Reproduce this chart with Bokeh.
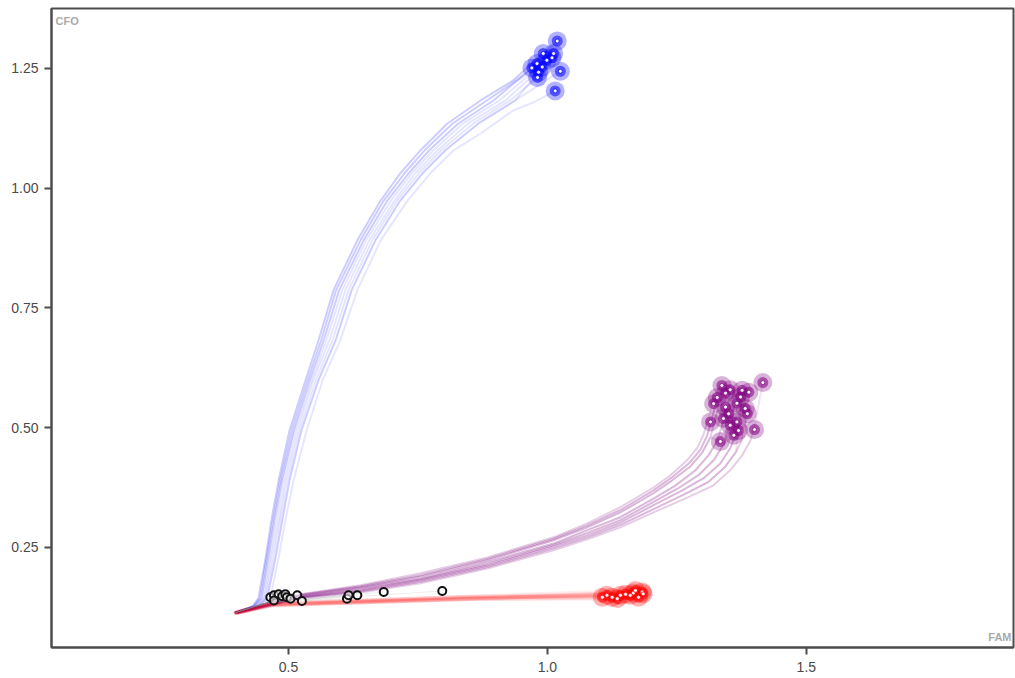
from bokeh.plotting import figure
from bokeh.models import Range1d, FixedTicker, NumeralTickFormatter, Label, ColumnDataSource
from bokeh.embed import file_html
from bokeh.resources import INLINE

# ---------------- data ----------------
start_x, start_y = 0.398, 0.114

# amplification paths of the blue cluster (read across the band)
blue_y_levels = [0.114, 0.127, 0.144, 0.223, 0.306, 0.390, 0.494, 0.599, 0.682,
                 0.787, 0.891, 0.974, 1.031, 1.079, 1.135, 1.183, 1.225]
blue_paths_x = [
    [0.398, 0.431, 0.442, 0.455, 0.467, 0.481, 0.502, 0.533, 0.558, 0.587, 0.633, 0.678, 0.716, 0.755, 0.807, 0.871, 0.934],
    [0.398, 0.434, 0.448, 0.460, 0.473, 0.487, 0.510, 0.541, 0.568, 0.598, 0.645, 0.691, 0.732, 0.772, 0.828, 0.896],
    [0.400, 0.438, 0.454, 0.466, 0.481, 0.494, 0.517, 0.548, 0.579, 0.610, 0.656, 0.705, 0.745, 0.788, 0.847, 0.919],
    [0.402, 0.442, 0.459, 0.474, 0.488, 0.502, 0.525, 0.558, 0.591, 0.622, 0.668, 0.716, 0.759, 0.803, 0.867, 0.938],
    [0.403, 0.446, 0.465, 0.480, 0.494, 0.510, 0.535, 0.566, 0.600, 0.633, 0.678, 0.730, 0.774, 0.819, 0.871, 0.934, 0.973],
    [0.398, 0.432, 0.445, 0.457, 0.470, 0.484, 0.506, 0.537, 0.563, 0.592, 0.639, 0.684, 0.724, 0.763, 0.817, 0.883],
    [0.399, 0.436, 0.451, 0.463, 0.477, 0.490, 0.513, 0.545, 0.573, 0.604, 0.650, 0.698, 0.738, 0.780, 0.837, 0.907],
    [0.401, 0.440, 0.456, 0.470, 0.484, 0.498, 0.521, 0.553, 0.585, 0.616, 0.662, 0.710, 0.752, 0.795, 0.857, 0.928],
]
blue_paths_y = [
    blue_y_levels,
    blue_y_levels[:16],
    blue_y_levels[:16],
    blue_y_levels[:16],
    [0.114, 0.127, 0.144, 0.223, 0.306, 0.390, 0.494, 0.599, 0.682,
     0.787, 0.891, 0.974, 1.031, 1.079, 1.114, 1.162, 1.179],
    blue_y_levels[:16],
    blue_y_levels[:16],
    blue_y_levels[:16],
]
blue_end_x = [1.019, 1.025, 1.015, 0.970, 0.981, 1.009, 0.992, 0.999, 0.980, 0.990, 0.983, 1.012]
blue_end_y = [1.307, 1.244, 1.203, 1.251, 1.231, 1.272, 1.281, 1.267, 1.260, 1.253, 1.242, 1.281]
blue_path = [0, 3, 4, 1, 7, 5, 0, 6, 1, 2, 3, 5]

# purple cluster
purple_paths_x = [
    [0.398, 0.461, 0.523, 0.639, 0.755, 0.884, 1.012, 1.077, 1.141, 1.205, 1.237, 1.270, 1.290, 1.301, 1.311, 1.320],
    [0.398, 0.465, 0.523, 0.639, 0.755, 0.884, 1.012, 1.077, 1.141, 1.205, 1.241, 1.276, 1.299, 1.315, 1.324, 1.334],
    [0.400, 0.467, 0.523, 0.639, 0.755, 0.884, 1.012, 1.077, 1.141, 1.205, 1.247, 1.286, 1.311, 1.328, 1.340, 1.349],
    [0.402, 0.469, 0.523, 0.639, 0.755, 0.884, 1.012, 1.077, 1.141, 1.205, 1.257, 1.301, 1.334, 1.353, 1.367, 1.376],
    [0.403, 0.471, 0.523, 0.639, 0.755, 0.884, 1.012, 1.077, 1.141, 1.205, 1.270, 1.320, 1.353, 1.376, 1.392, 1.402],
    [0.398, 0.463, 0.523, 0.639, 0.755, 0.884, 1.012, 1.077, 1.141, 1.205, 1.239, 1.273, 1.295, 1.308, 1.318, 1.327],
    [0.401, 0.468, 0.523, 0.639, 0.755, 0.884, 1.012, 1.077, 1.141, 1.205, 1.252, 1.293, 1.322, 1.340, 1.353, 1.362],
    [0.402, 0.470, 0.523, 0.639, 0.755, 0.884, 1.012, 1.077, 1.141, 1.205, 1.263, 1.310, 1.343, 1.364, 1.380, 1.389],
]
purple_paths_y = [
    [0.114, 0.133, 0.152, 0.171, 0.196, 0.229, 0.271, 0.300, 0.334, 0.375, 0.400, 0.432, 0.459, 0.484, 0.519, 0.557],
    [0.114, 0.133, 0.150, 0.167, 0.189, 0.223, 0.265, 0.292, 0.323, 0.363, 0.390, 0.419, 0.448, 0.480, 0.519, 0.557],
    [0.114, 0.131, 0.148, 0.165, 0.185, 0.219, 0.258, 0.286, 0.313, 0.352, 0.379, 0.411, 0.442, 0.473, 0.515, 0.557],
    [0.114, 0.131, 0.146, 0.160, 0.181, 0.212, 0.252, 0.275, 0.302, 0.338, 0.367, 0.394, 0.425, 0.457, 0.494, 0.536],
    [0.112, 0.129, 0.144, 0.156, 0.175, 0.206, 0.244, 0.267, 0.292, 0.323, 0.354, 0.379, 0.411, 0.442, 0.473, 0.515],
    [0.114, 0.133, 0.151, 0.169, 0.192, 0.226, 0.268, 0.296, 0.328, 0.369, 0.395, 0.425, 0.453, 0.482, 0.519, 0.557],
    [0.114, 0.131, 0.147, 0.162, 0.183, 0.215, 0.255, 0.280, 0.307, 0.345, 0.373, 0.402, 0.433, 0.465, 0.504, 0.546],
    [0.113, 0.130, 0.145, 0.158, 0.178, 0.209, 0.248, 0.271, 0.297, 0.330, 0.360, 0.386, 0.418, 0.449, 0.483, 0.525],
]
purple_end_x = [1.416, 1.315, 1.334, 1.400, 1.337, 1.353, 1.376, 1.389, 1.321, 1.328, 1.366,
                1.344, 1.382, 1.386, 1.350, 1.366, 1.353, 1.369, 1.360, 1.340, 1.373, 1.344]
purple_end_y = [0.594, 0.512, 0.471, 0.496, 0.588, 0.579, 0.578, 0.574, 0.550, 0.563, 0.551,
                0.543, 0.540, 0.529, 0.529, 0.512, 0.505, 0.494, 0.484, 0.519, 0.564, 0.572]
purple_path = [4, 0, 1, 4, 5, 1, 7, 7, 0, 5, 6, 2, 3, 7, 2, 6, 2, 3, 6, 1, 3, 5]

# red cluster
red_paths_x = [
    [0.398, 0.463, 0.850],
    [0.400, 0.467, 0.850],
    [0.399, 0.465, 0.850],
]
red_paths_y = [
    [0.114, 0.132, 0.147],
    [0.113, 0.129, 0.142],
    [0.114, 0.131, 0.144],
]
red_end_x = [1.106, 1.125, 1.151, 1.166, 1.183, 1.185, 1.135, 1.115, 1.160, 1.176, 1.141, 1.170]
red_end_y = [0.146, 0.146, 0.152, 0.155, 0.157, 0.153, 0.143, 0.150, 0.150, 0.146, 0.150, 0.160]
red_path = [0, 1, 2, 0, 1, 2, 1, 0, 2, 1, 2, 0]

# no-template controls (black)
ntc_x = [0.465, 0.472, 0.481, 0.488, 0.494, 0.497, 0.504, 0.517, 0.526, 0.472,
         0.613, 0.616, 0.633, 0.684, 0.797]
ntc_y = [0.146, 0.150, 0.152, 0.148, 0.152, 0.146, 0.143, 0.150, 0.138, 0.139,
         0.143, 0.150, 0.150, 0.157, 0.159]

x_ticks = [0.5, 1.0, 1.5]
y_ticks = [0.25, 0.50, 0.75, 1.00, 1.25]
x_label = "FAM"
y_label = "CFO"


def traces(paths_x, paths_y, end_x, end_y, idx):
    xs, ys = [], []
    for ex, ey, k in zip(end_x, end_y, idx):
        pts = [(x, y) for x, y in zip(paths_x[k], paths_y[k]) if x < ex and y < ey + 0.01]
        xs.append([a for a, b in pts] + [ex])
        ys.append([b for a, b in pts] + [ey])
    return xs, ys


p = figure(width=1015, height=678, output_backend="svg", toolbar_location=None,
           x_range=Range1d(0.0425, 1.90), y_range=Range1d(0.041, 1.375),
           min_border_left=51, min_border_right=2, min_border_top=8, min_border_bottom=31)
p.grid.visible = False
p.background_fill_color = "white"
p.border_fill_color = "white"
p.outline_line_color = "#4d4d4d"
p.outline_line_width = 2

for ax in (p.xaxis[0], p.yaxis[0]):
    ax.axis_line_color = "#4d4d4d"
    ax.axis_line_width = 2
    ax.major_tick_line_color = "#4d4d4d"
    ax.major_tick_line_width = 2
    ax.major_tick_out = 7
    ax.major_tick_in = 0
    ax.minor_tick_line_color = None
    ax.major_label_text_color = "#4a4a4a"
    ax.major_label_text_font = "Liberation Sans"
    ax.major_label_text_font_size = "14px"
p.xaxis.major_label_standoff = 7
p.yaxis.major_label_standoff = 6
p.xaxis.ticker = FixedTicker(ticks=x_ticks)
p.yaxis.ticker = FixedTicker(ticks=y_ticks)
p.xaxis.formatter = NumeralTickFormatter(format="0.0")
p.yaxis.formatter = NumeralTickFormatter(format="0.00")

# traces
for paths_x, paths_y, ex, ey, idx, col, alpha, lw in [
    (blue_paths_x, blue_paths_y, blue_end_x, blue_end_y, blue_path, "#0000ff", 0.10, 2),
    (purple_paths_x, purple_paths_y, purple_end_x, purple_end_y, purple_path, "#800080", 0.10, 2),
    (red_paths_x, red_paths_y, red_end_x, red_end_y, red_path, "#ff0000", 0.06, 4),
]:
    xs, ys = traces(paths_x, paths_y, ex, ey, idx)
    p.multi_line(xs=xs, ys=ys, line_color=col, line_alpha=alpha, line_width=lw,
                 line_join="round", line_cap="round")

ntc_xs = [[start_x, 0.46, x] for x in ntc_x]
ntc_ys = [[start_y, 0.135, y] for y in ntc_y]
p.multi_line(xs=ntc_xs, ys=ntc_ys, line_color="#888888", line_alpha=0.15, line_width=1)

# end-point markers
for ex, ey, col in [(blue_end_x, blue_end_y, "#0000ff"),
                    (purple_end_x, purple_end_y, "#800080"),
                    (red_end_x, red_end_y, "#ff0000")]:
    src = ColumnDataSource(dict(x=ex, y=ey))
    p.scatter("x", "y", source=src, marker="circle", size=19, fill_color=col, fill_alpha=0.3, line_color=None)
    p.scatter("x", "y", source=src, marker="circle", size=11, fill_color=col, fill_alpha=0.55, line_color=None)
    p.scatter("x", "y", source=src, marker="circle", size=4, fill_color="white", fill_alpha=0.95,
              line_color=col, line_width=1, line_alpha=0.7)

p.scatter(ntc_x, ntc_y, marker="circle", size=8, fill_color="white", fill_alpha=0.6,
          line_color="#111111", line_width=2)

p.add_layout(Label(x=0.0425, y=1.375, x_offset=4, y_offset=-6, text=y_label,
                   text_font="Liberation Sans", text_font_size="11px", text_font_style="bold",
                   text_color="#aaaaaa", text_baseline="top", text_align="left"))
p.add_layout(Label(x=1.90, y=0.041, x_offset=-2, y_offset=5, text=x_label,
                   text_font="Liberation Sans", text_font_size="11px", text_font_style="bold",
                   text_color="#aaaaaa", text_baseline="bottom", text_align="right"))

open("out.html", "w").write(file_html(p, INLINE))
